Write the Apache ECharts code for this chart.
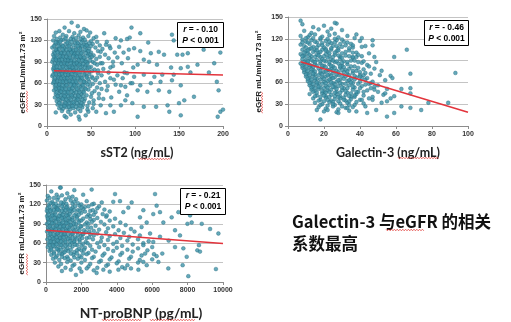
<!DOCTYPE html>
<html><head><meta charset="utf-8">
<script src="https://cdn.jsdelivr.net/npm/echarts@6/dist/echarts.min.js"></script>
<style>html,body{margin:0;padding:0;background:#fff}#c{width:511px;height:322px}</style>
</head><body><div id="c"></div>
<script>
// eGFR (mL/min/1.73 m²) against each biomarker, one [x, y] pair per patient
const sst2Points = [
 [28,145],[20,138],[35,140],[42,136],[14,133],
 [10,131],[25,133],[31,130],[38,132],[45,134],[49,131],[18,128],
 [8,126],[15,124],[22,126],[29,125],[36,127],[41,124],[47,126],[53,123],
 [7,120],[12,118],[19,121],[24,119],[30,121],[34,118],[40,120],[44,117],[50,119],[57,118],
 [9,114],[13,116],[17,113],[21,115],[26,114],[32,116],[37,113],[42,114],[46,112],[52,115],[60,113],
 [6,110],[11,108],[15,111],[20,109],[23,111],[28,108],[33,110],[38,109],[43,111],[48,108],[55,110],[63,108],
 [8,104],[12,106],[16,103],[19,105],[24,104],[27,106],[31,103],[35,105],[40,104],[45,106],[50,103],[58,105],
 [7,100],[10,98],[14,101],[18,99],[22,100],[26,98],[29,101],[33,99],[37,100],[41,98],[47,101],[53,99],[66,100],
 [9,95],[13,93],[16,96],[20,94],[24,95],[28,93],[32,96],[36,94],[39,95],[44,93],[49,96],[56,94],[70,95],
 [6,90],[11,91],[15,89],[18,90],[22,88],[25,91],[30,89],[34,90],[38,88],[42,91],[46,89],[52,90],[61,88],
 [8,85],[12,86],[17,84],[21,86],[24,83],[28,85],[32,84],[35,86],[40,84],[44,85],[50,83],[57,86],[75,84],
 [7,80],[10,81],[14,79],[19,80],[23,78],[27,81],[31,79],[36,80],[41,78],[46,81],[54,79],[64,80],
 [9,75],[13,76],[16,74],[20,75],[25,73],[29,76],[33,74],[38,75],[43,73],[48,76],[58,74],[70,75],
 [6,70],[11,71],[15,69],[18,70],[22,68],[26,71],[30,69],[35,70],[39,68],[45,70],[51,69],[62,71],
 [8,65],[12,66],[17,64],[21,65],[24,63],[28,66],[32,64],[37,65],[42,63],[47,66],[55,64],[76,65],
 [7,60],[10,61],[14,59],[19,60],[23,58],[27,61],[31,59],[34,60],[40,58],[44,61],[52,59],[60,60],
 [9,55],[13,56],[16,54],[20,55],[25,53],[29,56],[33,54],[38,55],[43,53],[49,56],[57,54],
 [8,50],[12,51],[15,49],[19,50],[23,48],[27,51],[31,49],[36,50],[41,48],[47,51],[54,49],[68,50],
 [10,45],[14,46],[18,44],[22,45],[26,43],[30,46],[35,44],[39,45],[45,43],[51,46],
 [9,40],[13,41],[17,39],[21,40],[25,38],[29,41],[34,39],[38,40],[43,38],[50,41],[59,39],
 [11,35],[15,36],[20,34],[24,35],[28,33],[33,36],[37,34],[42,35],[48,33],
 [12,30],[16,31],[19,29],[23,30],[27,28],[31,31],[36,29],[41,30],[46,28],[53,31],
 [14,25],[18,24],[22,26],[26,23],[30,25],[35,24],[40,26],[46,23],[52,25],
 [10,19],[17,21],[24,20],[32,19],[38,21],[47,20],[20,14],[27,16],[36,13],[44,15],[37,9],[22,12],
 [11,122],[16,120],[21,123],[27,122],[33,123],[38,122],[43,121],
 [10,117],[15,118],[23,117],[28,118],[35,116],[39,117],[48,116],
 [8,112],[13,112],[18,112],[25,112],[30,113],[35,112],[40,112],[45,113],[50,112],
 [10,107],[14,108],[18,107],[22,107],[26,107],[30,106],[33,107],[38,107],[43,107],[47,105],
 [9,102],[12,103],[16,102],[20,102],[24,102],[28,103],[31,101],[35,102],[39,102],[44,102],[49,100],
 [8,97],[11,96],[15,98],[18,97],[22,97],[26,96],[30,98],[34,97],[38,97],[42,96],[46,98],[51,97],
 [7,93],[10,93],[14,92],[17,93],[21,92],[24,92],[27,91],[31,92],[36,92],[40,92],[44,90],[49,92],
 [9,88],[13,88],[16,87],[20,88],[23,87],[27,88],[31,87],[34,88],[37,86],[41,87],[46,87],[54,88],
 [8,82],[11,83],[15,82],[18,83],[22,82],[26,83],[29,82],[33,82],[38,82],[43,82],[48,82],
 [8,77],[12,78],[15,77],[18,77],[22,76],[26,78],[30,77],[34,77],[39,78],[44,77],[51,77],
 [7,72],[10,73],[14,72],[17,73],[21,72],[24,72],[28,73],[32,72],[37,72],[42,72],[48,73],
 [9,67],[13,68],[16,67],[20,67],[23,67],[27,68],[31,67],[35,67],[40,67],[45,68],[52,67],
 [8,62],[12,63],[15,62],[18,62],[22,62],[26,63],[29,62],[33,62],[38,63],[42,62],[48,62],
 [10,57],[14,58],[18,57],[22,57],[27,58],[31,57],[36,57],[41,57],[46,58],
 [10,52],[14,53],[17,52],[21,52],[25,52],[29,53],[34,52],[39,52],[44,52],
 [11,47],[16,48],[20,47],[24,47],[28,48],[33,47],[37,47],[42,47],
 [12,42],[16,43],[20,42],[24,42],[28,43],[32,42],[36,42],[41,42],
 [13,37],[18,38],[22,37],[27,37],[31,38],[35,37],[40,37],
 [14,32],[21,32],[25,32],[30,33],[34,32],[39,32],
 [16,27],[20,28],[25,27],[29,28],[33,27],[38,28],
 [56,125],[60,97],[63,88],[58,78],[66,62],[72,82],[59,45],[64,38],[69,56],[75,90],[78,58],[62,52],
 [57,68],[80,96],[73,40],[68,118],[65,130],[85,88],[88,75],[92,95],[95,60],[89,36],[84,57],[98,82],
 [91,122],[77,103],[71,112],
 [96,138],[106,130],[94,124],[78,123],[84,120],[115,117],[142,128],[144,120],[156,122],[165,119],
 [178,107],[194,118],[197,103],[160,102],[154,100],[148,100],[133,100],[127,104],[118,102],[106,105],
 [99,109],[93,107],[87,103],[82,111],[72,109],[67,114],[61,104],[110,93],[116,90],[103,86],[125,86],
 [141,82],[152,81],[160,83],[171,86],[190,88],[184,75],[163,75],[144,72],[131,72],[122,69],[110,72],
 [99,69],[91,74],[86,67],[80,71],[72,67],[129,62],[142,64],[118,60],[106,57],[97,60],[89,55],[152,57],
 [139,48],[127,50],[114,48],[103,50],[91,43],[82,48],[195,50],[193,62],[167,41],[156,36],[150,32],
 [137,29],[124,27],[110,27],[97,32],[84,29],[72,29],[67,18],[76,20],[103,13],[139,20],[152,15],
 [194,13],[197,20],[200,23],[56,20],[61,29],[53,36]
];

const galectin3Points = [
 [8,140],[14,136],[20,138],[27,141],[24,134],[7,145],[26,142],
 [9,131],[13,128],[17,133],[22,130],[26,127],[30,132],[12,125],
 [7,124],[11,122],[15,126],[19,123],[23,125],[28,122],[33,124],[37,121],
 [8,119],[10,116],[13,118],[16,115],[18,119],[21,117],[24,114],[27,118],[31,116],[35,113],[40,117],
 [7,112],[9,110],[12,113],[14,109],[17,111],[20,108],[22,112],[25,110],[28,107],[32,111],[36,108],[43,110],
 [8,105],[10,103],[12,106],[15,104],[17,101],[19,105],[22,102],[24,105],[27,103],[30,100],[34,104],[38,101],
 [7,99],[9,97],[11,100],[13,96],[16,98],[18,95],[21,99],[23,96],[26,98],[29,95],[32,97],[36,94],[41,96],
 [8,92],[10,90],[12,93],[14,89],[16,91],[19,92],[21,89],[24,91],[26,88],[29,92],[31,89],[35,90],[39,88],
 [7,86],[9,84],[11,87],[13,83],[15,85],[18,86],[20,83],[23,85],[25,82],[28,86],[30,83],[33,85],[37,82],[44,84],
 [8,80],[10,78],[12,81],[14,77],[17,79],[19,80],[22,77],[24,79],[27,76],[29,80],[32,77],[34,79],[38,76],[42,78],
 [9,74],[11,72],[13,75],[15,71],[18,73],[20,74],[23,71],[25,73],[28,70],[31,74],[33,71],[36,73],[40,70],[46,72],
 [10,68],[12,66],[14,69],[16,65],[19,67],[21,68],[24,65],[26,67],[29,64],[32,68],[35,65],[38,67],[43,64],
 [11,62],[13,60],[15,63],[17,59],[20,61],[22,62],[25,59],[27,61],[30,58],[33,62],[36,59],[40,61],[45,58],
 [12,56],[14,54],[16,57],[18,53],[21,55],[23,56],[26,53],[28,55],[31,52],[34,56],[37,53],[41,55],[48,54],
 [13,50],[15,48],[17,51],[20,47],[22,49],[24,50],[27,47],[30,49],[33,46],[36,50],[39,47],[44,49],
 [12,44],[16,42],[19,45],[21,41],[24,43],[27,44],[29,41],[32,43],[35,40],[38,44],[42,42],[47,40],
 [14,38],[18,36],[21,39],[24,35],[26,37],[29,38],[32,35],[35,37],[40,36],[45,38],
 [15,32],[19,30],[23,33],[26,29],[29,31],[33,32],[37,29],[42,31],
 [17,26],[21,24],[25,27],[28,23],[32,25],[36,26],[20,20],[27,19],[34,21],
 [10,121],[14,121],[18,121],[22,120],[26,120],[30,119],
 [8,115],[11,115],[15,116],[19,114],[23,116],[26,115],[29,113],[33,115],
 [10,108],[13,107],[16,108],[19,111],[21,106],[24,107],[27,110],[30,109],[34,107],
 [9,101],[11,104],[14,102],[16,104],[18,102],[21,104],[23,100],[26,101],[28,104],[32,102],[36,101],
 [8,96],[10,95],[12,98],[15,95],[17,97],[20,96],[22,94],[25,95],[28,97],[30,94],[34,96],[38,95],
 [9,88],[11,89],[13,91],[15,88],[18,89],[20,90],[23,88],[25,90],[27,89],[30,87],[33,88],[37,90],[41,87],
 [8,83],[10,82],[12,84],[14,81],[16,83],[19,83],[21,81],[24,83],[26,80],[29,82],[31,81],[35,82],[39,80],
 [9,77],[11,76],[13,78],[15,75],[18,76],[21,75],[23,77],[25,76],[28,74],[30,77],[33,75],[36,76],[40,74],
 [10,71],[12,70],[14,72],[17,70],[19,71],[22,70],[24,69],[27,71],[30,69],[34,70],[37,69],[42,70],
 [11,65],[13,64],[15,66],[18,64],[20,65],[23,64],[25,66],[28,63],[31,65],[34,63],[37,64],[41,66],
 [12,59],[14,58],[16,60],[19,58],[21,59],[24,60],[26,57],[29,59],[32,58],[35,60],[39,58],
 [13,53],[15,52],[17,54],[20,52],[22,53],[25,54],[27,51],[30,53],[33,52],[36,54],[40,52],
 [14,47],[16,46],[19,48],[21,46],[23,47],[26,46],[29,46],[32,48],[35,45],[38,47],
 [15,41],[18,40],[20,42],[23,40],[26,41],[28,40],[31,39],[34,41],[37,40],
 [17,35],[20,34],[22,36],[25,33],[28,34],[31,36],[34,34],[38,33],
 [18,29],[22,28],[25,30],[30,27],[34,29],
 [45,100],[49,88],[52,76],[44,66],[46,59],[50,56],[53,43],[42,47],[55,51],[57,38],
 [38,126],[41,121],[47,118],[47,111],[36,111],[48,95],[59,95],[66,105],[68,72],[93,73],[57,69],
 [58,66],[54,63],[47,61],[63,51],[68,52],[68,45],[59,41],[55,34],[52,32],[47,36],[63,27],[68,25],
 [74,22],[78,32],[89,32],[59,18],[55,13],[49,22],[44,18],[43,27],[41,36],[16,22],[18,9],[22,22],
 [28,18],[33,25],[38,20],[37,42],[50,47],[54,45],[46,52],[43,57],[40,68],[43,73],[48,79],[45,82],
 [42,89],[39,98],[36,95],[51,70],[48,50],[41,109]
];

const ntProBNPPoints = [
 [300,140],[800,146],[1200,137],[600,135],[1600,142],
 [100,133],[450,130],[900,134],[1300,131],[1700,128],[2100,135],
 [50,126],[350,124],[650,127],[1000,123],[1400,126],[1800,122],[2300,125],[2700,121],
 [150,119],[400,121],[700,118],[950,120],[1200,117],[1500,121],[1900,118],[2200,116],[2600,120],[3000,117],
 [80,114],[300,112],[550,115],[750,111],[1000,114],[1250,112],[1500,115],[1800,111],[2100,113],[2500,110],[2900,114],[3300,112],
 [120,108],[350,106],[550,109],[800,105],[1000,108],[1200,106],[1450,109],[1700,105],[2000,107],[2400,104],[2800,108],[3200,105],[3600,109],
 [60,102],[250,100],[450,103],[650,99],[850,102],[1050,100],[1250,103],[1500,99],[1750,101],[2100,98],[2500,102],[2900,99],[3400,101],[3900,98],
 [150,96],[350,94],[550,97],[750,93],[950,96],[1150,94],[1350,97],[1600,93],[1900,95],[2300,92],[2700,96],[3100,93],[3600,95],[4200,92],
 [50,90],[250,88],[450,91],[650,87],[850,90],[1050,88],[1250,91],[1450,87],[1700,89],[2000,86],[2400,90],[2800,87],[3300,89],[3800,86],[4500,88],
 [120,84],[320,82],[520,85],[720,81],[920,84],[1120,82],[1320,85],[1550,81],[1800,83],[2150,80],[2550,84],[3000,81],[3500,83],[4100,80],[4800,82],
 [60,78],[260,76],[460,79],[660,75],[860,78],[1060,76],[1260,79],[1500,75],[1750,77],[2050,74],[2450,78],[2900,75],[3400,77],[3900,74],[4400,76],[5000,78],
 [150,72],[350,70],[550,73],[750,69],[950,72],[1150,70],[1400,73],[1650,69],[1950,71],[2300,68],[2700,72],[3150,69],[3600,71],[4200,68],[4700,70],[5300,72],
 [80,66],[300,64],[500,67],[700,63],[900,66],[1100,64],[1350,67],[1600,63],[1900,65],[2250,62],[2650,66],[3100,63],[3500,65],[4000,62],[4600,64],[5200,66],[5800,63],
 [150,60],[350,58],[550,61],[750,57],[950,60],[1200,58],[1450,61],[1750,57],[2100,59],[2500,56],[2900,60],[3300,57],[3800,59],[4300,56],[4900,58],[5500,60],
 [100,54],[300,52],[500,55],[700,51],[950,54],[1200,52],[1500,55],[1850,51],[2200,53],[2600,50],[3000,54],[3500,51],[4000,53],[4600,50],[5200,52],[6000,54],
 [200,48],[450,46],[700,49],[950,45],[1250,48],[1600,46],[2000,49],[2400,45],[2800,47],[3300,44],[3800,48],[4300,45],[4900,47],[5600,44],
 [300,42],[600,40],[900,43],[1200,39],[1550,42],[1900,40],[2300,43],[2700,39],[3200,41],[3700,38],[4200,42],[4800,39],[5400,41],[6100,43],
 [400,36],[750,34],[1050,37],[1400,33],[1800,36],[2200,34],[2600,37],[3100,33],[3600,35],[4100,32],[4700,36],[5300,34],[6000,35],
 [500,30],[850,28],[1200,31],[1600,27],[2000,30],[2500,28],[3000,31],[3500,27],[4000,29],[4600,26],[5200,30],
 [700,24],[1100,22],[1500,25],[1900,21],[2400,24],[2900,22],[3400,25],[4300,23],[4800,21],
 [900,17],[1400,19],[2000,16],[2700,18],[3600,16],
 [200,130],[700,131],[1100,128],[1500,132],
 [250,122],[550,121],[850,123],[1150,121],[1600,124],[2000,120],
 [200,116],[450,117],[650,114],[900,117],[1150,115],[1400,113],[1650,117],[2000,115],[2400,117],
 [50,110],[250,110],[450,111],[650,112],[900,110],[1100,111],[1350,110],[1600,111],[1900,110],[2200,109],[2650,111],
 [150,104],[350,103],[550,104],[750,102],[950,104],[1150,103],[1350,105],[1600,103],[1850,104],[2300,101],[2700,104],
 [100,98],[300,97],[500,99],[700,97],[900,99],[1100,97],[1300,99],[1500,96],[1750,98],[2000,95],[2500,97],
 [150,92],[350,91],[550,93],[750,90],[950,92],[1150,91],[1350,93],[1550,90],[1850,92],[2200,89],[2600,93],
 [200,86],[400,85],[600,87],[800,86],[1000,86],[1200,85],[1400,88],[1650,85],[1950,86],[2350,84],
 [150,80],[350,79],[550,81],[750,80],[950,81],[1150,79],[1350,81],[1600,79],[1900,80],[2250,77],[2700,79],
 [250,74],[450,73],[650,75],[850,74],[1050,74],[1250,73],[1500,74],[1800,73],[2100,74],[2500,74],
 [200,68],[400,67],[600,69],[800,68],[1000,69],[1250,67],[1500,68],[1750,67],[2050,68],[2450,69],
 [250,62],[450,62],[650,64],[850,63],[1100,62],[1350,63],[1600,62],[1900,62],[2350,60],
 [200,57],[400,56],[600,58],[850,57],[1100,56],[1350,57],[1650,58],[2000,56],
 [300,50],[600,51],[850,50],[1100,49],[1400,50],[1750,49],[2150,50],
 [450,44],[750,44],[1050,46],[1400,44],[1750,44],[2100,44],
 [550,38],[900,39],[1250,36],[1600,38],[2000,38],
 [830,146],[2580,143],[3900,136],[3800,124],[4840,123],[6160,136],[6250,118],[7480,108],[8140,103],
 [8230,92],[8800,90],[7990,90],[9270,82],[9740,75],[8640,57],[8550,49],[8700,47],[7950,39],[7720,26],
 [8040,9],[9600,20],[6910,21],[6350,31],[5690,26],[5500,31],[5220,19],[4460,21],[4090,19],[3240,19],
 [2860,14],[2300,21],[1690,11],
 [6060,105],[6440,108],[6630,92],[7100,100],[7290,80],[7570,72],[6930,64],[7290,54],[7760,52],[6570,44],
 [6250,40],[5730,49],[5500,57],[6060,62],[6440,70],[5880,75],[5400,85],[5690,92],[5310,100],[5500,111],
 [4650,115],[4370,108],[4180,125],[3430,103],[3150,123]
];

// least-squares fit lines, drawn between their end points
const sst2Fit = [[8,77.5],[200,71.5]];
const galectin3Fit = [[7,88.5],[100,19]];
const ntProBNPFit = [[0,80],[10000,59.5]];

const panelStats = [['- 0.10','< 0.001'],['- 0.46','< 0.001'],['- 0.21','< 0.001']];
const xTitles = ['sST2 (ng/mL)','Galectin-3 (ng/mL)','NT-proBNP (pg/mL)'];
const xRanges = [[0,200,50],[0,100,20],[0,10000,2000]];
const yRange = [0,150,30];
const yTitle = 'eGFR mL/min/1.73 m\u00b2';

const grids = [
  {left:47, top:19, width:176, height:107},
  {left:288, top:17, width:180, height:109},
  {left:46, top:185, width:177, height:98}
];
const statBoxes = [[177,22,46,25],[424,20,44,25],[180,188,45,26]];
// per-panel title placement: [font size, gap below axis, left padding, y-name gap]
const titleLayout = [[12.5,20,4,20],[12.5,20,20,25],[13.8,25,13,20]];

const axisGrey = '#8c8c8c';
const tickFont = {fontSize:7, color:'#333', fontFamily:'Liberation Sans', fontWeight:'bold'};

const xAxes = grids.map((g,i)=>({
  type:'value', gridIndex:i, min:xRanges[i][0], max:xRanges[i][1], interval:xRanges[i][2],
  axisLine:{show:true, onZero:false, lineStyle:{color:axisGrey, width:1}},
  axisTick:{show:true, length:3, lineStyle:{color:axisGrey}},
  splitLine:{show:false},
  axisLabel:Object.assign({margin:5, formatter:v=>String(v)}, tickFont),
  name:xTitles[i], nameLocation:'middle', nameGap:titleLayout[i][1],
  nameTextStyle:{fontSize:titleLayout[i][0], fontWeight:'bold', color:'#222', fontFamily:'Lato',
    padding:[0,0,0,titleLayout[i][2]]}
}));
const yAxes = grids.map((g,i)=>({
  type:'value', gridIndex:i, min:yRange[0], max:yRange[1], interval:yRange[2],
  axisLine:{show:true, lineStyle:{color:axisGrey, width:1}},
  axisTick:{show:true, length:3, lineStyle:{color:axisGrey}},
  splitLine:{show:true, lineStyle:{color:'#c4c4c4', width:1}},
  axisLabel:Object.assign({margin:5, formatter:v=>String(v)}, tickFont),
  name:yTitle, nameLocation:'middle', nameGap:titleLayout[i][3],
  nameTextStyle:{fontSize:8, fontWeight:'bold', color:'#222', fontFamily:'Liberation Sans'}
}));

const pointSets = [sst2Points, galectin3Points, ntProBNPPoints];
const fits = [sst2Fit, galectin3Fit, ntProBNPFit];
const series = [];
pointSets.forEach((pts,i)=>{
  series.push({type:'scatter', xAxisIndex:i, yAxisIndex:i, data:pts, symbolSize:3.8,
    itemStyle:{color:'#3f93a9', borderColor:'#256c80', borderWidth:0.5}, silent:true, z:2});
  series.push({type:'line', xAxisIndex:i, yAxisIndex:i, data:fits[i], showSymbol:false, symbol:'none',
    lineStyle:{color:'#e3343c', width:1.6}, silent:true, z:3});
});

const graphics = [];
statBoxes.forEach((b,i)=>{
  graphics.push({type:'rect', shape:{x:b[0]+0.5, y:b[1]+0.5, width:b[2], height:b[3]},
    style:{fill:'#fff', stroke:'#000', lineWidth:1}, z:10});
  graphics.push({type:'text', x:b[0]+b[2]/2+0.5, y:b[1]+b[3]/2+0.5, z:11,
    style:{text:'{i|r} = '+panelStats[i][0]+'\n{i|P} '+panelStats[i][1],
      align:'center', verticalAlign:'middle', lineHeight:11,
      font:'bold 8.5px "Liberation Sans"', fill:'#000',
      rich:{i:{fontStyle:'italic', fontWeight:'bold', fontSize:8.5, fontFamily:'Liberation Sans', fill:'#000'}}}});
});
graphics.push({type:'text', left:292, top:211, z:11,
  style:{text:'Galectin-3 与eGFR 的相关\n系数最高', lineHeight:21.5,
    font:'bold 16.5px "Noto Sans CJK SC"', fill:'#111'}});

// red wavy proofing underlines beneath some words
function wavy(x0, y0, x1, y1) {
  const pts = [];
  const horizontal = y0 === y1;
  const len = horizontal ? x1 - x0 : y1 - y0;
  for (let s = 0, k = 0; s <= len; s += 1.4, k++) {
    const off = k % 2 ? 0.8 : -0.8;
    pts.push(horizontal ? [x0 + s, y0 + off] : [x0 + off, y0 + s]);
  }
  return {type:'polyline', shape:{points:pts}, style:{stroke:'#e0302c', lineWidth:0.7, fill:null}, z:12, silent:true};
}
graphics.push(wavy(138,159,171,159));
graphics.push(wavy(398,158,439,158));
graphics.push(wavy(102,320,142,320));
graphics.push(wavy(150,320,195,320));
graphics.push(wavy(27,91,27,113));
graphics.push(wavy(262,92,262,113));
graphics.push(wavy(27,254,27,276));
graphics.push(wavy(386,230,424,230));

const chart = echarts.init(document.getElementById('c'), null, {renderer:'canvas'});
chart.setOption({
  animation:false,
  backgroundColor:'#fff',
  grid:grids,
  xAxis:xAxes,
  yAxis:yAxes,
  series:series,
  graphic:graphics
});
</script></body></html>
